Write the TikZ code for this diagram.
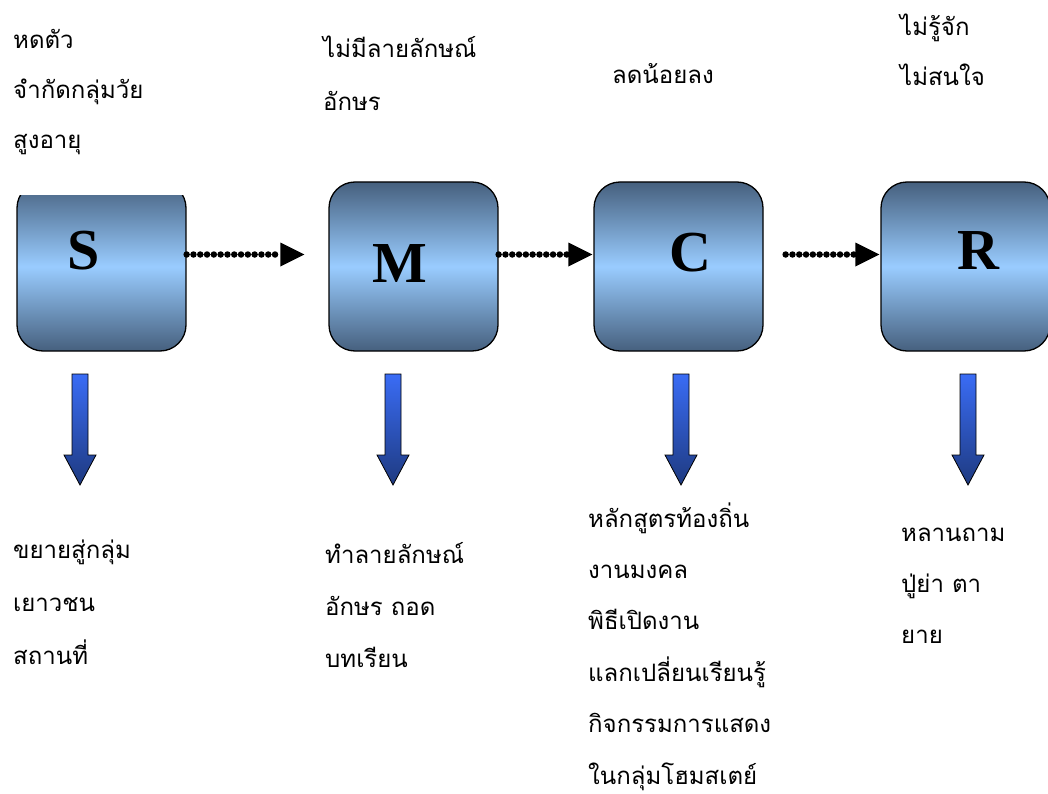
\documentclass[tikz,border=0pt]{standalone}
\usepackage{fontspec}
\setmainfont{Liberation Serif}
\newfontfamily\thaifont[Script=Thai]{Loma}
\usetikzlibrary{arrows.meta}
\definecolor{boxdark}{HTML}{46607E}
\definecolor{boxlight}{HTML}{99CCFF}
\definecolor{arrtop}{HTML}{3A6CF5}
\definecolor{arrbot}{HTML}{1E3A80}
\begin{document}
\begin{tikzpicture}[x=1pt,y=-1pt,
  stagebox/.style={draw=black, line width=1.3pt, rounded corners=26pt,
    minimum width=169pt, minimum height=169pt, inner sep=0pt,
    top color=boxdark, bottom color=boxdark, middle color=boxlight},
  letter/.style={font=\fontsize{58}{60}\selectfont\bfseries, inner sep=0pt},
  thai/.style={font=\thaifont\fontsize{24}{#1}\selectfont, align=left,
    anchor=base west, inner sep=0pt},
  thai/.default=51,
  dotarrow/.style={line width=6.5pt, dash pattern=on 0pt off 6.8pt, line cap=round,
    -{Triangle[length=24pt,width=24pt,line width=0pt]}},
  blockarrow/.style={draw=black, line width=0.8pt, top color=arrtop, bottom color=arrbot}]
\useasboundingbox (0,0) rectangle (1048,794);
% boxes
\begin{scope}
  \clip (0,196) rectangle (1048,794);
  \node[stagebox] (S) at (101.5,266.5) {};
\end{scope}
\node[stagebox] (M) at (413.5,266.5) {};
\node[stagebox] (C) at (678.5,266.5) {};
\node[stagebox] (R) at (965.5,266.5) {};
% letters
\node[letter] (lS) at (84,251) {S};
\node[letter] (lM) at (400,264) {M};
\node[letter] (lC) at (690,253) {C};
\node[letter] (lR) at (978,251) {R};
% dotted arrows
\draw[dotarrow, shorten >=24pt] ([yshift=12pt]S.east) -- ([yshift=12pt]M.west);
\draw[dotarrow, shorten >=1pt] ([yshift=12pt]M.east) -- ([yshift=12pt]C.west);
\draw[dotarrow, shorten <=22pt, shorten >=1pt] ([yshift=12pt]C.east) -- ([yshift=12pt]R.west);
% block arrows
\foreach \cx in {80,393,681,968}{
  \draw[blockarrow] ({\cx-8},374) -- ({\cx+8},374) -- ({\cx+8},455) -- ({\cx+16},455)
    -- (\cx,485) -- ({\cx-16},455) -- ({\cx-8},455) -- cycle;
}
% texts (anchor = baseline of last line)
\node[thai=50] (tS) at (13,149) {หดตัว\\จำกัดกลุ่มวัย\\สูงอายุ};
\node[thai=53] (tM) at (323,111) {ไม่มีลายลักษณ์\\อักษร};
\node[thai] (tC) at (612,84) {ลดน้อยลง};
\node[thai=50] (tR) at (900,86) {ไม่รู้จัก\\ไม่สนใจ};
\node[thai=53] (bS) at (13,664) {ขยายสู่กลุ่ม\\เยาวชน\\สถานที่};
\node[thai=52] (bM) at (325,667) {ทำลายลักษณ์\\อักษร ถอด\\บทเรียน};
\node[thai=51.4] (bC) at (588,784) {หลักสูตรท้องถิ่น\\งานมงคล\\พิธีเปิดงาน\\แลกเปลี่ยนเรียนรู้\\กิจกรรมการแสดง\\ในกลุ่มโฮมสเตย์};
\node[thai=51] (bR) at (901,643) {หลานถาม\\ปู่ย่า ตา\\ยาย};
\end{tikzpicture}
\end{document}
